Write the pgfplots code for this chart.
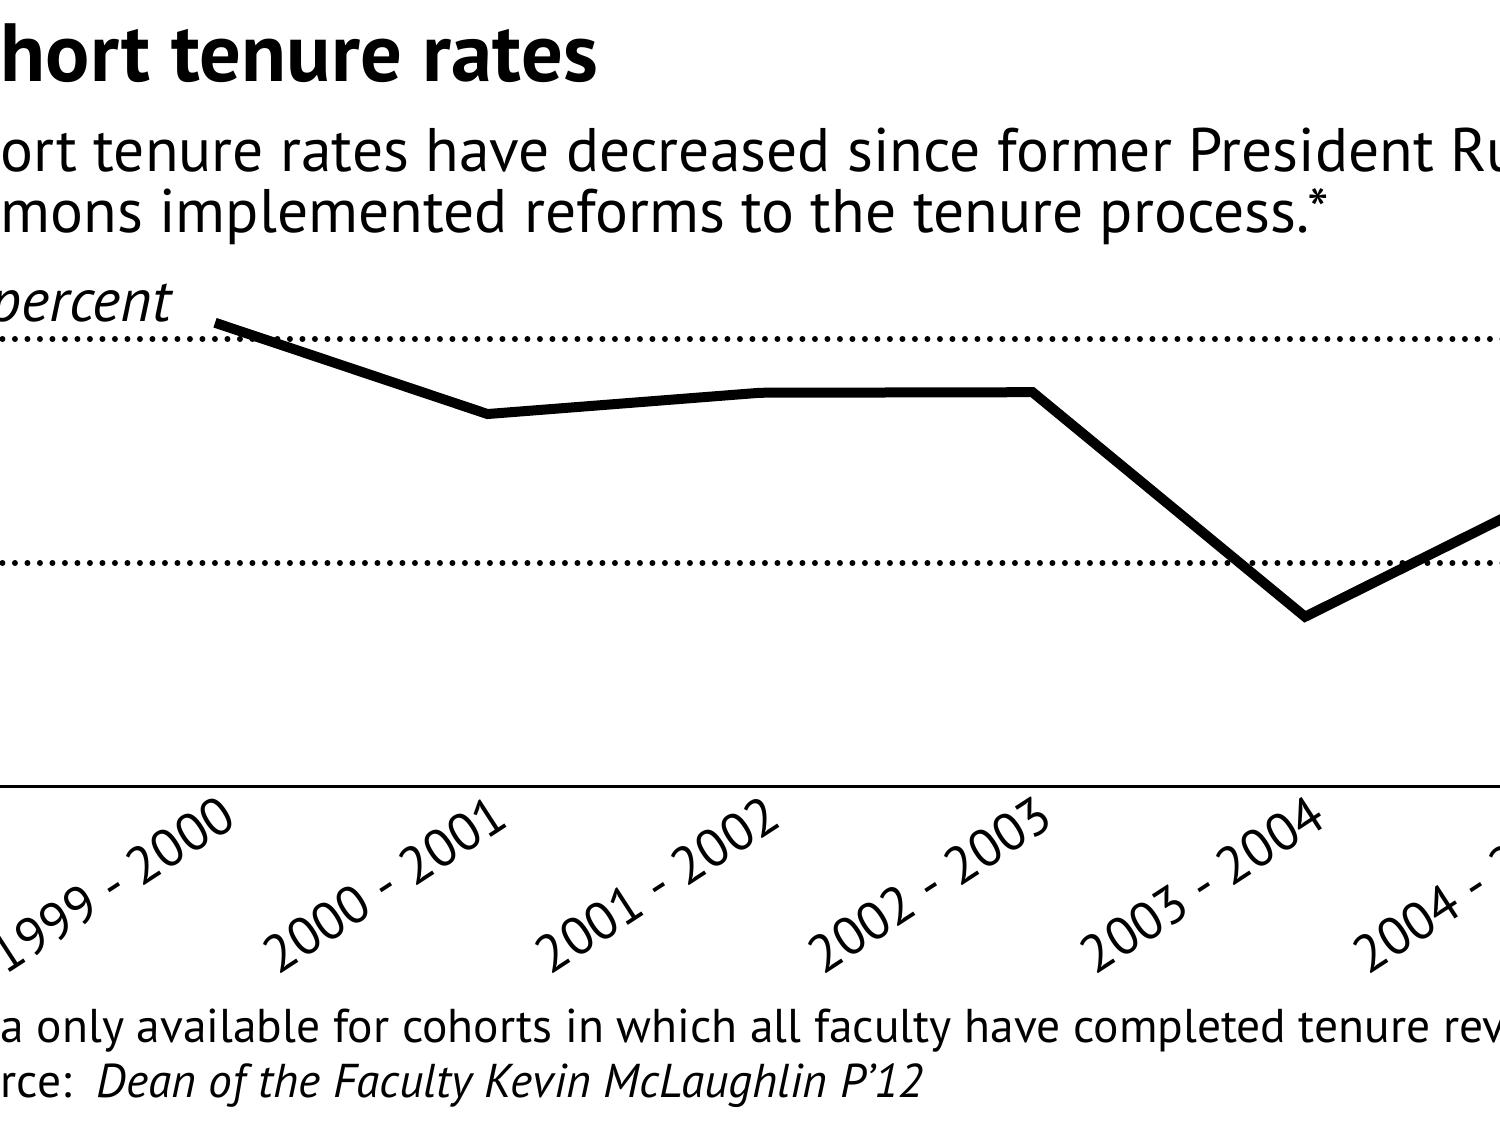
\documentclass[border=0pt]{standalone}
\usepackage{fontspec}
\setmainfont{PT Sans}
\usepackage{pgfplots}
\pgfplotsset{compat=1.18}
\begin{document}
\begin{tikzpicture}[x=1cm,y=1cm]
\useasboundingbox (0,0) rectangle (15,11.25);
\clip (0,0) rectangle (15,11.25);
\begin{axis}[
  at={(0cm,3.38cm)}, anchor=south west,
  scale only axis, width=17.138cm, height=5.6cm,
  xmin=-0.789, xmax=5.5, ymin=0, ymax=100,
  axis x line*=bottom, axis y line*=left,
  x axis line style={line width=0.03cm, -},
  y axis line style={draw=none},
  xtick={0,...,5},
  xticklabels={1999 - 2000, 2000 - 2001, 2001 - 2002, 2002 - 2003, 2003 - 2004, 2004 - 2005},
  major tick length=0pt,
  xticklabel style={xshift=0.03cm, yshift=-0.05cm, rotate=33, anchor=north east, inner sep=0pt, font=\fontsize{15}{15}\selectfont},
  ytick={40,80}, yticklabels={},
  ytick style={draw=none},
  clip=false,
]
\addplot[forget plot, black, line width=0.06cm, line cap=round, dash pattern=on 0pt off 0.125cm] coordinates {(-0.78,80) (5.6,80)};
\addplot[forget plot, black, line width=0.06cm, line cap=round, dash pattern=on 0pt off 0.125cm] coordinates {(-0.78,40) (5.6,40)};
\addplot[black, line width=0.1cm, mark=none] coordinates {(0,82.9) (1,66.6) (2,70.4) (3,70.5) (4,30.4) (5,54.6)};
\end{axis}
\node[anchor=base west, inner sep=0pt] at (0,10.43) {\fontsize{23.5}{23.5}\selectfont\bfseries\llap{Co}hort tenure rates};
\node[anchor=base west, inner sep=0pt] at (0,9.53) {\fontsize{17.5}{17.5}\selectfont\llap{Coh}ort tenure rates have decreased since former President Ruth J.};
\node[anchor=base west, inner sep=0pt] at (0,8.92) {\fontsize{17.5}{17.5}\selectfont\llap{Sim}mons implemented reforms to the tenure process.*};
\node[anchor=base west, inner sep=0pt] at (-0.1,8.03) {\fontsize{17.2}{17.2}\selectfont\itshape\llap{80 }percent};
\node[anchor=base west, inner sep=0pt] at (0,0.82) {\fontsize{13.5}{13.5}\selectfont\llap{*Dat}a only available for cohorts in which all faculty have completed tenure review.};
\node[anchor=base west, inner sep=0pt] at (0,0.28) {\fontsize{13.5}{13.5}\selectfont\llap{Sou}rce:\ \ \textit{Dean of the Faculty Kevin McLaughlin P’12}};
\end{tikzpicture}
\end{document}
